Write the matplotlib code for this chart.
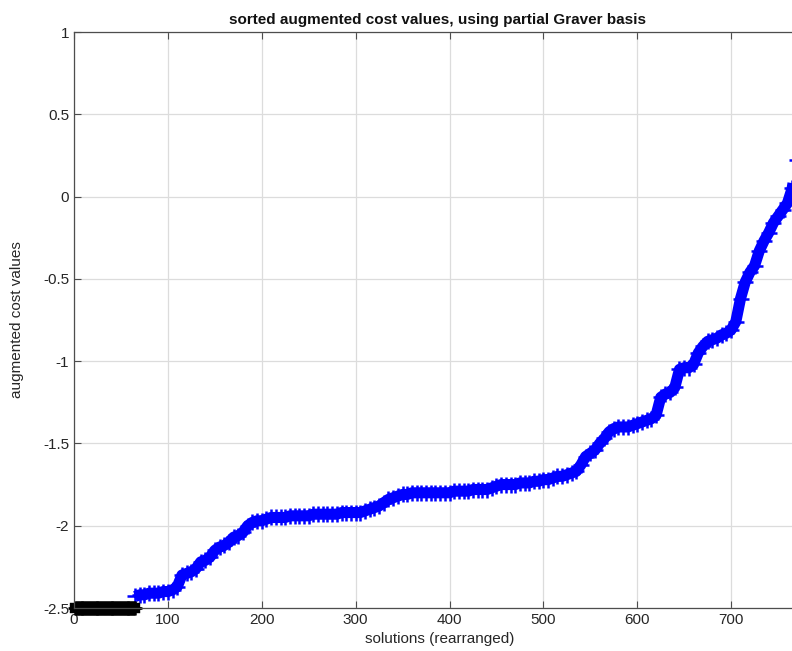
import matplotlib.pyplot as plt

plt.rcParams['font.family'] = ['Liberation Sans', 'DejaVu Sans']

# black solutions, all at the minimum value
n_black = 65
black_val = -2.5

# sorted augmented cost values (read every 5 solutions)
x_start = 65
x_step = 5
costs = [
    -2.43, -2.42, -2.42, -2.41, -2.41, -2.41, -2.40, -2.40, -2.39, -2.37,  # 65-110
    -2.30, -2.29, -2.28, -2.26, -2.22, -2.21, -2.19, -2.15, -2.13, -2.12,  # 115-160
    -2.10, -2.07, -2.06, -2.04, -2.00, -1.98, -1.97, -1.97, -1.96, -1.95,  # 165-210
    -1.95, -1.95, -1.95, -1.94, -1.94, -1.94, -1.94, -1.94, -1.93, -1.93,  # 215-260
    -1.93, -1.93, -1.93, -1.93, -1.92, -1.92, -1.92, -1.92, -1.92, -1.91,  # 265-310
    -1.90, -1.89, -1.88, -1.86, -1.84, -1.83, -1.82, -1.81, -1.81, -1.80,  # 315-360
    -1.80, -1.80, -1.80, -1.80, -1.80, -1.80, -1.80, -1.80, -1.79, -1.79,  # 365-410
    -1.79, -1.79, -1.78, -1.78, -1.78, -1.78, -1.77, -1.76, -1.75, -1.75,  # 415-460
    -1.75, -1.75, -1.74, -1.74, -1.74, -1.73, -1.73, -1.72, -1.72, -1.71,  # 465-510
    -1.70, -1.70, -1.69, -1.68, -1.67, -1.63, -1.58, -1.56, -1.54, -1.50,  # 515-560
    -1.47, -1.43, -1.41, -1.40, -1.40, -1.40, -1.39, -1.38, -1.37, -1.36,  # 565-610
    -1.35, -1.33, -1.22, -1.20, -1.19, -1.16, -1.05, -1.04, -1.04, -1.02,  # 615-660
    -0.95, -0.91, -0.88, -0.87, -0.86, -0.84, -0.83, -0.81, -0.76, -0.62,  # 665-710
    -0.52, -0.46, -0.42, -0.33, -0.27, -0.22, -0.16, -0.12, -0.08, -0.04,  # 715-760
    0.05, 0.22,                                                           # 765-770
]

black_x = list(range(1, n_black + 1))
black_y = [black_val] * n_black
blue_x = [x_start + i * x_step for i in range(len(costs))]

fig = plt.figure(figsize=(7.92, 6.51), dpi=100)
ax = fig.add_axes([74 / 792, 43 / 651, 751 / 792, 576 / 651])

# dense run of '+' markers forms a thick band
ax.plot(blue_x, costs, '-', color='blue', linewidth=8, solid_capstyle='butt',
        clip_on=False)
ax.plot(blue_x, costs, '+', color='blue', markersize=11, mew=1.8, clip_on=False)
ax.plot(black_x, black_y, '-', color='black', linewidth=7.5, clip_on=False)
ax.plot(black_x, black_y, '+', color='black', markersize=10, mew=1.8, clip_on=False)

ax.set_xlim(0, 800)
ax.set_ylim(-2.5, 1)
ax.set_xticks(range(0, 701, 100))
ax.set_yticks([-2.5, -2, -1.5, -1, -0.5, 0, 0.5, 1])
ax.set_yticklabels(['-2.5', '-2', '-1.5', '-1', '-0.5', '0', '0.5', '1'])

ax.grid(True, color='#dcdcdc', linewidth=0.9)
ax.set_axisbelow(True)
ax.tick_params(direction='in', top=True, right=True, length=5, width=0.8,
               colors='#4d4d4d', labelcolor='#262626', labelsize=11)
for s in ax.spines.values():
    s.set_color('#4d4d4d')
    s.set_linewidth(0.9)

ax.set_title('sorted augmented cost values, using partial Graver basis',
             fontsize=11, fontweight='bold', color='#111111', pad=6,
             x=(437 - 74) / 751)
ax.set_xlabel('solutions (rearranged)', fontsize=11, color='#262626')
ax.xaxis.set_label_coords((440 - 74) / 751, -0.042)
ax.set_ylabel('augmented cost values', fontsize=11, color='#262626', labelpad=14)

fig.savefig('out.png', dpi=100)
